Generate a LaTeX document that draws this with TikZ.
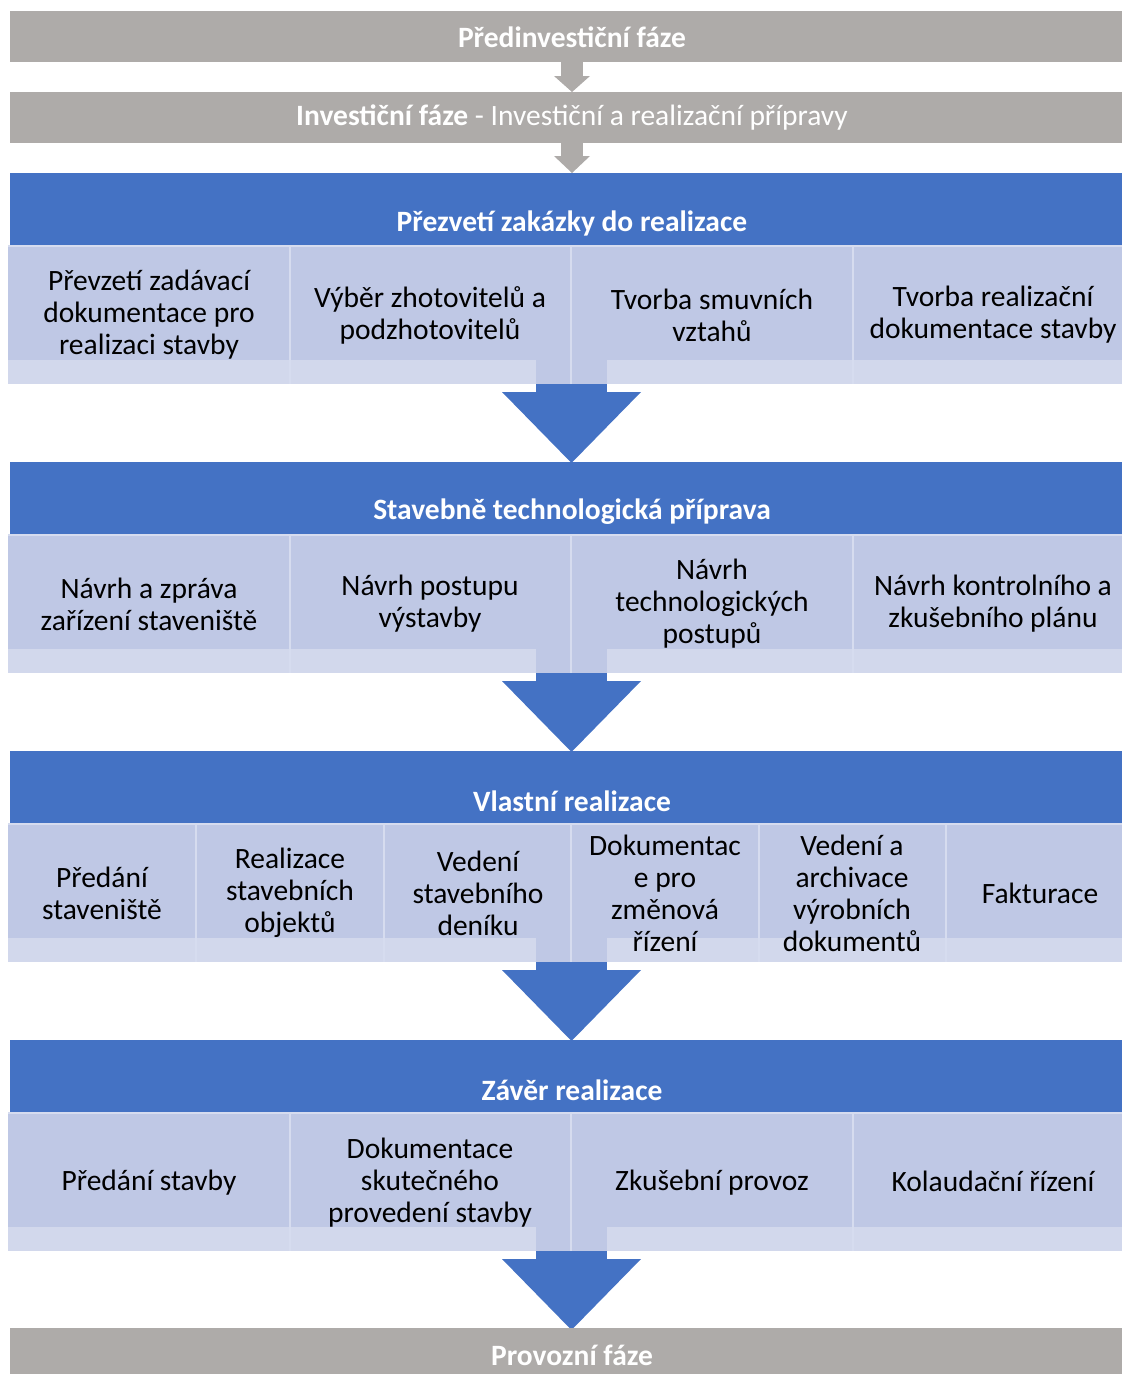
\documentclass[tikz,border=0pt]{standalone}
\usepackage{fontspec}
\setmainfont{Carlito}
\definecolor{phgray}{HTML}{AEABA9}
\definecolor{phblue}{HTML}{4472C4}
\definecolor{celltop}{HTML}{BFC8E5}
\definecolor{cellband}{HTML}{D2D8EC}
\definecolor{celldiv}{HTML}{D6DCEF}
\tikzset{
  graybar/.style={fill=phgray},
  hdrtext/.style={text=white,font=\fontsize{29.5}{32}\selectfont\bfseries,inner sep=0pt},
  celltext/.style={text=black,font=\fontsize{29.5}{32}\selectfont,align=center,inner sep=0pt},
  divline/.style={draw=celldiv,line width=2.5pt},
}
\newcommand{\phblock}[1]{%
  % #1 = top y of header
  \fill[phblue] (10,#1) rectangle (1134,#1+73);
  \fill[celltop] (8,#1+73) rectangle (1134,#1+187);
  \fill[cellband] (8,#1+187) rectangle (1134,#1+211);
  \fill[celltop] (536,#1+187) rectangle (607,#1+211);
  \draw[divline] (8,#1+73) -- (1134,#1+73);
  \fill[phblue] (536,#1+211) rectangle (607,#1+220);
  \fill[phblue] (502,#1+219) -- (641,#1+219) -- (571.5,#1+290) -- cycle;
}
\begin{document}
\begin{tikzpicture}[x=1pt,y=-1pt]
\useasboundingbox (0,0) rectangle (1122,1374);
\begin{scope}
\clip (0,0) rectangle (1122,1374);
% gray bars and small arrows
\fill[graybar] (10,11) rectangle (1134,62);
\node[hdrtext] (pre) at (572,37) {Předinvestiční fáze};
\fill[phgray] (561,62) rectangle (583,77);
\fill[phgray] (554,76) -- (590,76) -- (572,92) -- cycle;
\fill[graybar] (10,92) rectangle (1134,143);
\node[hdrtext] (inv) at (572,118) {Investiční fáze \mdseries- Investiční a realizační přípravy};
\fill[phgray] (561,143) rectangle (583,157);
\fill[phgray] (554,156) -- (590,156) -- (572,173) -- cycle;

% blocks
\phblock{173}
\phblock{462}
\phblock{751}
\phblock{1040}

% dividers 4 columns
\foreach \t in {173,462,1040}{
  \foreach \x in {289.5,571,852.5}{
    \draw[divline,line width=2pt] (\x,\t+74) -- (\x,\t+211);
  }
}
\foreach \x in {196,384,571,759,946}{
  \draw[divline,line width=2pt] (\x,825) -- (\x,962);
}

% bottom gray bar
\fill[graybar] (10,1328) rectangle (1134,1380);
\node[hdrtext] (prov) at (572,1355) {Provozní fáze};

% headers
\node[hdrtext] (h1) at (572,223) {Přezvetí zakázky do realizace};
\node[hdrtext] (h2) at (572,512) {Stavebně technologická příprava};
\node[hdrtext] (h3) at (572,801) {Vlastní realizace};
\node[hdrtext] (h4) at (572,1090) {Závěr realizace};

% block 1 cells
\node[celltext] (c11) at (149,315) {Převzetí zadávací\\dokumentace pro\\realizaci stavby};
\node[celltext] (c12) at (430,315) {Výběr zhotovitelů a\\podzhotovitelů};
\node[celltext] (c13) at (712,315) {Tvorba smuvních\\vztahů};
\node[celltext] (c14) at (993,315) {Tvorba realizační\\dokumentace stavby};
% block 2 cells
\node[celltext] (c21) at (149,604) {Návrh a zpráva\\zařízení staveniště};
\node[celltext] (c22) at (430,604) {Návrh postupu\\výstavby};
\node[celltext] (c23) at (712,604) {Návrh\\technologických\\postupů};
\node[celltext] (c24) at (993,604) {Návrh kontrolního a\\zkušebního plánu};
% block 3 cells
\node[celltext] (c31) at (102,893) {Předání\\staveniště};
\node[celltext] (c32) at (290,893) {Realizace\\stavebních\\objektů};
\node[celltext] (c33) at (478,893) {Vedení\\stavebního\\deníku};
\node[celltext] (c34) at (665,893) {Dokumentac\\e pro\\změnová\\řízení};
\node[celltext] (c35) at (852,893) {Vedení a\\archivace\\výrobních\\dokumentů};
\node[celltext] (c36) at (1040,893) {Fakturace};
% block 4 cells
\node[celltext] (c41) at (149,1183) {Předání stavby};
\node[celltext] (c42) at (430,1183) {Dokumentace\\skutečného\\provedení stavby};
\node[celltext] (c43) at (712,1183) {Zkušební provoz};
\node[celltext] (c44) at (993,1181) {Kolaudační řízení};
\end{scope}
\end{tikzpicture}
\end{document}
